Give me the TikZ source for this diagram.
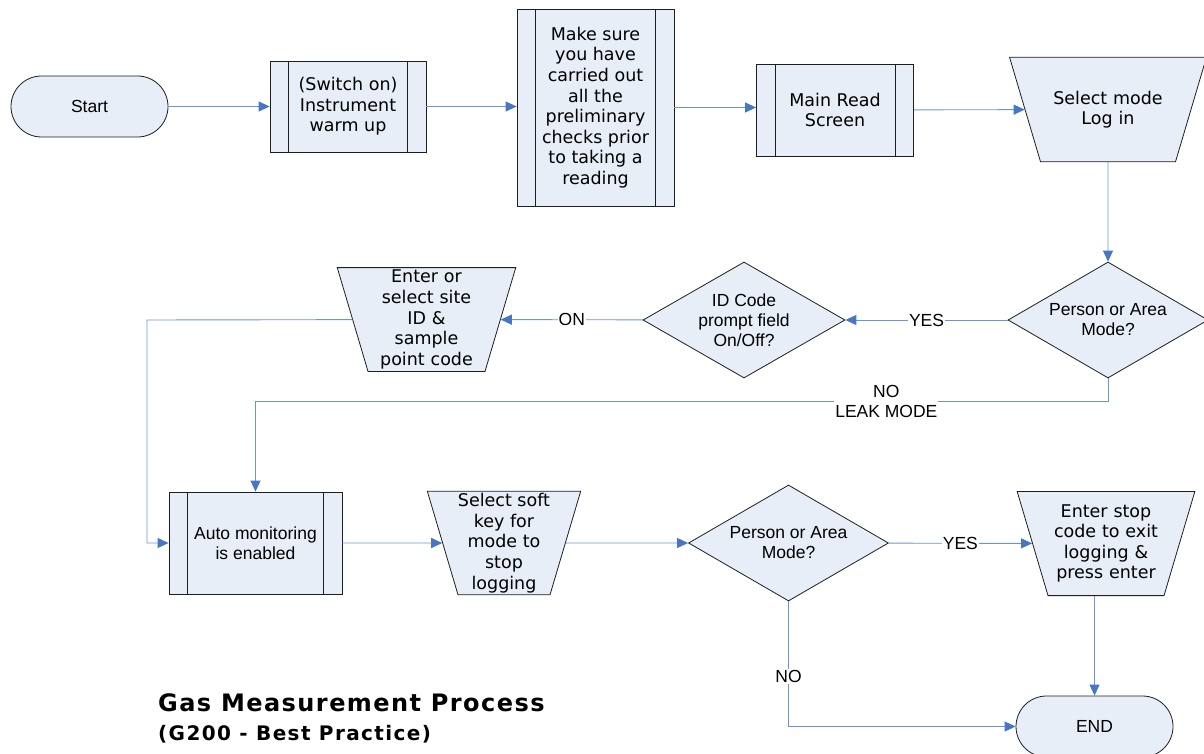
\documentclass[tikz,border=0pt]{standalone}
\usepackage{fontspec}
\setmainfont{DejaVu Sans}
\newfontfamily\arialfont{Liberation Sans}
\usetikzlibrary{shapes.geometric,shapes.misc,arrows.meta}
\definecolor{boxfill}{RGB}{232,238,247}
\definecolor{flowline}{RGB}{110,148,208}
\definecolor{flowhead}{RGB}{70,118,196}
\definecolor{boxline}{RGB}{30,30,30}
\begin{document}
\begin{tikzpicture}[x=1pt, y=-1pt,
    base/.style={draw=boxline, fill=boxfill, line width=0.8pt, align=center, inner sep=0pt,
      font=\fontsize{17.5}{20.6}\selectfont},
    arial/.style={font=\arialfont\fontsize{17.5}{20}\selectfont},
    term/.style={base, arial, rounded rectangle, minimum width=157, minimum height=61},
    subproc/.style={base, rectangle, path picture={
      \draw[boxline, line width=1pt] ([xshift=18.5pt]path picture bounding box.north west) -- ([xshift=18.5pt]path picture bounding box.south west);
      \draw[boxline, line width=1pt] ([xshift=-18.5pt]path picture bounding box.north east) -- ([xshift=-18.5pt]path picture bounding box.south east);}},
    manual/.style={base, trapezium, trapezium left angle=106.5, trapezium right angle=106.5},
    decision/.style={base, arial, diamond, aspect=1.72, minimum width=200, minimum height=116},
    flow/.style={draw=flowline, line width=0.9pt, -{Triangle[length=11pt, width=10pt, color=flowhead]}},
    lbl/.style={arial, fill=white, inner sep=1pt, align=center},
    heading/.style={anchor=base west, inner sep=0pt}]
  \useasboundingbox (0,0) rectangle (1204,754);

  \node[term] (start) at (89.5,106.5) {Start};
  \node[subproc, minimum width=156, minimum height=91] (warmup) at (348,106.5) {(Switch on)\\Instrument\\warm up};
  \node[subproc, minimum width=157, minimum height=197] (prelim) at (595.5,107.5)
    {Make sure\\you have\\carried out\\all the\\preliminary\\checks prior\\to taking a\\reading};
  \node[subproc, minimum width=157, minimum height=92] (mainread) at (835,110) {Main Read\\Screen};
  \node[manual, text width=135, inner ysep=33.5] (selectmode) at (1108,109.5) {Select mode\\Log in};

  \node[decision] (persA) at (1108,320) {Person or Area\\Mode?};
  \node[decision, minimum width=202] (idcode) at (744,320) {ID Code\\prompt field\\On/Off?};
  \node[manual, text width=117, inner ysep=2.5] (siteid) at (426.5,319.5) {Enter or\\select site\\ID \&\\sample\\point code};

  \node[subproc, arial, minimum width=173, minimum height=102] (auto) at (255.5,543) {Auto monitoring\\is enabled};
  \node[manual, inner ysep=2] (stopsel) at (504,543) {Select soft\\key for\\mode to\\stop\\logging};
  \node[decision] (persB) at (788.5,543) {Person or Area\\Mode?};
  \node[manual, text width=116, inner ysep=13] (stopcode) at (1106,543.5) {Enter stop\\code to exit\\logging \&\\press enter};
  \node[term] (end) at (1094.5,726.5) {END};

  \node[heading, font=\bfseries\fontsize{24}{28}\selectfont\addfontfeature{LetterSpace=6}] (title) at (158,711.5) {Gas Measurement Process};
  \node[heading, font=\bfseries\fontsize{20}{24}\selectfont\addfontfeature{LetterSpace=7}] (subtitle) at (158,740) {(G200 - Best Practice)};

  \draw[flow] (start) -- (warmup);
  \draw[flow] (warmup.east) -- (warmup.east -| prelim.west);
  \draw[flow] (prelim.east) -- (prelim.east -| mainread.west);
  \draw[flow] (mainread) -- (selectmode);
  \draw[flow] (selectmode) -- (persA);
  \draw[flow] (persA) -- node[lbl]{YES} (idcode);
  \draw[flow] (idcode) -- node[lbl]{ON} (siteid);
  \coordinate (sitebend) at (147,320);
  \draw[flow] (siteid) -- (sitebend) |- (auto.west);
  \coordinate (leakbend) at (1108,401);
  \draw[flow] (persA) -- (leakbend) -| node[lbl, pos=0.13]{NO\\LEAK MODE} (auto.north);
  \draw[flow] (auto) -- (stopsel);
  \draw[flow] (stopsel) -- (persB);
  \draw[flow] (persB) -- node[lbl]{YES} (stopcode);
  \draw[flow] (persB) |- node[lbl, pos=0.3]{NO} (end);
  \draw[flow] (stopcode.south -| end) -- (end);
\end{tikzpicture}
\end{document}
